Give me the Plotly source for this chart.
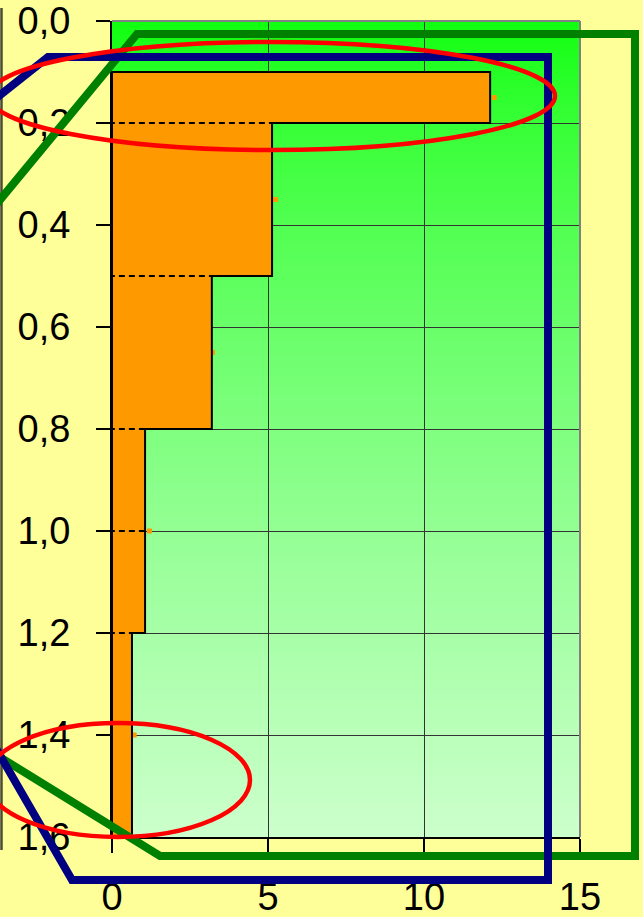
import plotly.graph_objects as go

# ---- data ----
layer_top = [0.1, 0.2, 0.5, 0.8, 1.2]
layer_bottom = [0.2, 0.5, 0.8, 1.2, 1.6]
layer_values = [12.12, 5.13, 3.2, 1.06, 0.64]

point_depths = [0.15, 0.35, 0.65, 1.0, 1.4]
point_values = [12.25, 5.24, 3.22, 1.2, 0.71]

dashed_depths = [0.2, 0.5, 0.8, 1.0, 1.2]

x_ticks = [0, 5, 10, 15]
y_ticks = [0.0, 0.2, 0.4, 0.6, 0.8, 1.0, 1.2, 1.4, 1.6]

# ---- figure geometry (pixels) ----
W, H = 643, 917
L, R, T, B = 112, 63, 21, 80
PW, PH = W - L - R, H - T - B


def px(x):
    return (x - L) / PW


def py(y):
    return (H - B - y) / PH


FONT = "Liberation Sans, Arial, sans-serif"
ORANGE = "#FF9900"

fig = go.Figure()

# measured points (under the bars)
fig.add_trace(go.Scatter(
    x=point_values, y=point_depths, mode="markers",
    marker=dict(symbol="square", size=5, color=ORANGE, line=dict(width=0)),
    showlegend=False, hoverinfo="skip"))

# layer bars
mids = [(a + b) / 2 for a, b in zip(layer_top, layer_bottom)]
thick = [b - a for a, b in zip(layer_top, layer_bottom)]
fig.add_trace(go.Bar(
    x=layer_values, y=mids, width=thick, orientation="h",
    marker=dict(color=ORANGE, line=dict(width=0)),
    showlegend=False, hoverinfo="skip"))

# step outline built from the layer data
sx, sy = [0], [layer_top[0]]
for t, b, v in zip(layer_top, layer_bottom, layer_values):
    sx += [v, v]
    sy += [t, b]
sx += [0, 0]
sy += [layer_bottom[-1], layer_top[0]]
fig.add_trace(go.Scatter(
    x=sx, y=sy, mode="lines", line=dict(color="black", width=2),
    cliponaxis=False, showlegend=False, hoverinfo="skip"))

# dashed boundary lines
for d in dashed_depths:
    vals = [v for t, b, v in zip(layer_top, layer_bottom, layer_values) if t <= d <= b]
    xe = min(vals)
    fig.add_trace(go.Scatter(
        x=[-0.1, xe], y=[d, d], mode="lines",
        line=dict(color="black", width=2.2, dash="6px,4px"),
        cliponaxis=False, showlegend=False, hoverinfo="skip"))

shapes = []
# gradient background of plot area
N = 120
for i in range(N):
    t = (i + 0.5) / N  # 0 top -> 1 bottom
    c = int(round(14 + (204 - 14) * t ** 0.75))
    shapes.append(dict(
        type="rect", xref="paper", yref="paper",
        x0=0, x1=1, y0=1 - (i + 1) / N - 0.001, y1=1 - i / N,
        fillcolor=f"rgb({c},255,{c})", line=dict(width=0), layer="below"))

# gray top/right frame
shapes.append(dict(type="line", xref="paper", yref="paper", x0=0, x1=1, y0=1, y1=1,
                   line=dict(color="#808080", width=2), layer="above"))
shapes.append(dict(type="line", xref="paper", yref="paper", x0=1, x1=1, y0=0, y1=1,
                   line=dict(color="#808080", width=2), layer="above"))

# thin line at far left
shapes.append(dict(type="line", xref="paper", yref="paper",
                   x0=px(1.5), x1=px(1.5), y0=py(8), y1=py(850),
                   line=dict(color="#4a4a38", width=2.5), layer="above"))


def path(points):
    s = "M {} {}".format(px(points[0][0]), py(points[0][1]))
    for x, y in points[1:]:
        s += " L {} {}".format(px(x), py(y))
    return s


# green polygon
shapes.append(dict(type="path", xref="paper", yref="paper",
                   path=path([(-10, 212), (137, 34), (635, 34), (635, 856), (160, 856), (-10, 751)]),
                   line=dict(color="#008000", width=8), layer="above"))
# blue polygon
shapes.append(dict(type="path", xref="paper", yref="paper",
                   path=path([(-10, 103), (48, 57), (548, 57), (548, 880), (72, 880), (-10, 738)]),
                   line=dict(color="#000080", width=8), layer="above"))
# red ellipses
shapes.append(dict(type="circle", xref="paper", yref="paper",
                   x0=px(-11), x1=px(555), y0=py(42), y1=py(150),
                   line=dict(color="#FF0000", width=4.5), layer="above"))
shapes.append(dict(type="circle", xref="paper", yref="paper",
                   x0=px(-14), x1=px(250), y0=py(723), y1=py(837),
                   line=dict(color="#FF0000", width=4.5), layer="above"))

fig.update_layout(
    width=W, height=H,
    margin=dict(l=L, r=R, t=T, b=B, pad=0, autoexpand=False),
    paper_bgcolor="#FFFF99", plot_bgcolor="rgba(0,0,0,0)",
    separators=",.",
    font=dict(family=FONT, size=38, color="black"),
    shapes=shapes,
    bargap=0,
    showlegend=False,
)
fig.update_xaxes(
    range=[0, 15], tickvals=x_ticks, ticks="outside", ticklen=14, tickwidth=1.5,
    tickcolor="black", showline=True, linecolor="black", linewidth=2,
    showgrid=True, gridcolor="#333333", gridwidth=1, zeroline=False, automargin=False,
    ticklabelstandoff=11, tickfont=dict(family=FONT, size=38))
fig.update_yaxes(
    range=[1.6, 0], tickvals=y_ticks, tickformat=".1f", ticks="outside", ticklen=14,
    tickwidth=1.5, tickcolor="black", showline=True, linecolor="black", linewidth=2,
    showgrid=True, gridcolor="#333333", gridwidth=1, zeroline=False, automargin=False,
    ticklabelstandoff=18, tickfont=dict(family=FONT, size=38))

fig.write_html(
    "out.html",
    config={"displayModeBar": False},
    post_script="document.body.style.margin='0';document.body.style.overflow='hidden';",
)
